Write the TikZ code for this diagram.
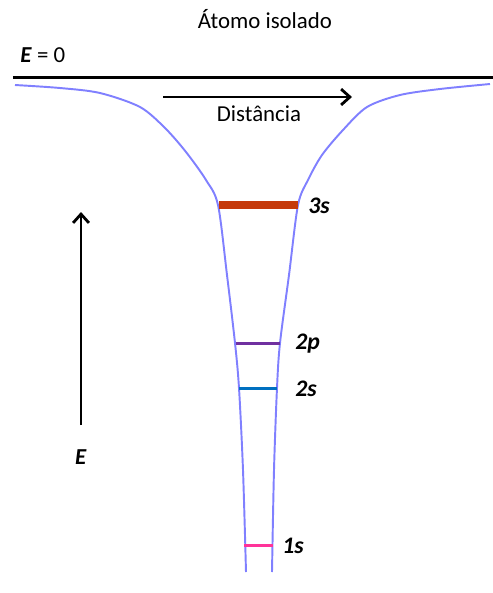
\documentclass[tikz,border=0pt]{standalone}
\usepackage{fontspec}
\setmainfont{Carlito}
\usetikzlibrary{arrows.meta}
\definecolor{poco}{RGB}{128,128,255}
\definecolor{nivelA}{RGB}{197,57,10}
\definecolor{nivelB}{RGB}{112,48,160}
\definecolor{nivelC}{RGB}{0,112,192}
\definecolor{nivelD}{RGB}{255,51,153}
\begin{document}
\begin{tikzpicture}[x=0.02cm,y=-0.02cm,every node/.style={font=\fontsize{13}{15}\selectfont,inner sep=0pt},
  nivel/.style={font=\bfseries\itshape\fontsize{13.5}{15}\selectfont,anchor=west},
  seta/.style={line width=1.6pt,-{Straight Barb[length=5pt,width=9pt]}}]
\useasboundingbox (0,0) rectangle (493,593);
\node (titulo) at (265,19) {Átomo isolado};
\node[anchor=west] (zero) at (20,55) {\textbf{\textit{E}} = 0};
\draw[line width=1.7pt] (13,77) -- (493,77);
% poço de potencial
\draw[poco,line width=1.1pt] plot[smooth,tension=0.5] coordinates {(15,85) (60,88) (100,93) (140,107) (165,128) (186,152) (206,180) (218,205) (227,275) (235,343) (239,388) (243,470) (246,572)};
\draw[poco,line width=1.1pt] plot[smooth,tension=0.5] coordinates {(490,84) (440,89) (400,95) (367,107) (343,130) (322,155) (308,180) (298,205) (289,275) (280,343) (277,388) (274,470) (272,572)};
% níveis
\draw[nivelA,line width=4pt] (219,205) -- (298,205);
\draw[nivelB,line width=1.7pt] (236,343) -- (280,343);
\draw[nivelC,line width=1.7pt] (239,388) -- (277,388);
\draw[nivelD,line width=1.7pt] (244,545) -- (273,545);
\node[nivel] (n3s) at (308,206) {3s};
\node[nivel] (n2p) at (295,344) {2p};
\node[nivel] (n2s) at (295,389) {2s};
\node[nivel] (n1s) at (282,546) {1s};
% eixos
\coordinate (d0) at (163,97);
\coordinate (d1) at (352,97);
\draw[seta] (d0) -- (d1);
\node (dist) at (259,114) {Distância};
\node (E) at (81,457) {\textbf{\textit{E}}};
\coordinate (e1) at (81,212);
\draw[seta] (81,425) -- (e1);
\end{tikzpicture}
\end{document}
